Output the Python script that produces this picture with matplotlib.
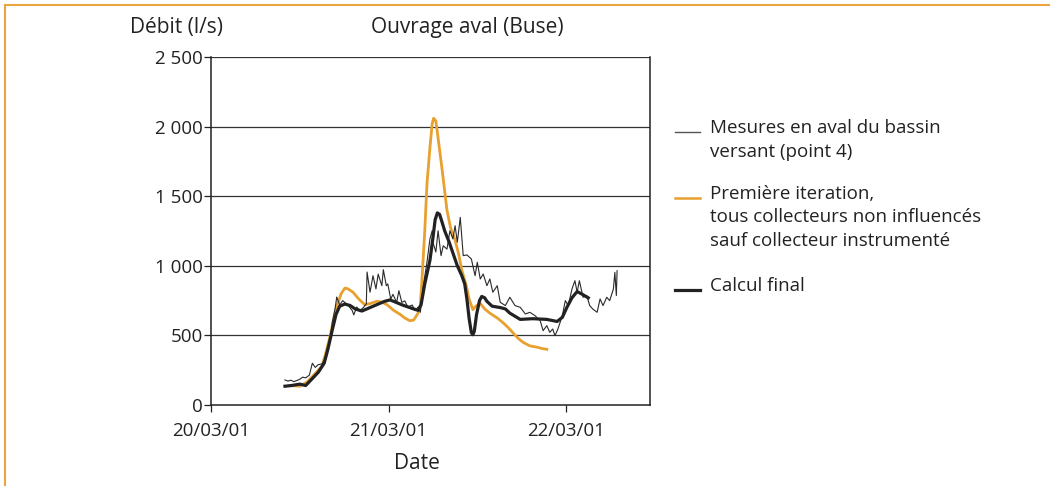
import matplotlib
matplotlib.use("Agg")
import matplotlib.pyplot as plt
from matplotlib.lines import Line2D

plt.rcParams['font.family'] = ['Open Sans', 'DejaVu Sans']

# heures depuis le 20/03/01 00:00
mes_h = [10.0, 10.4, 10.8, 11.2, 11.6, 12.0, 12.4, 12.8, 13.3, 13.7, 14.1, 14.5, 15.0, 15.4,
         15.7, 16.1, 16.4, 16.8, 17.0, 17.4, 17.8, 18.5, 19.1, 19.3, 19.7, 20.1, 20.6, 21.0,
         21.1, 21.5, 21.9, 22.3, 22.6, 23.1, 23.3, 23.7, 23.9, 24.3, 24.6, 25.1, 25.4, 25.8,
         26.2, 26.6, 27.2, 27.6, 28.0, 28.3, 28.7, 29.2, 29.6, 29.9, 30.0, 30.4, 30.7, 31.1,
         31.4, 31.9, 32.3, 32.7, 33.0, 33.3, 33.7, 34.1, 34.6, 35.2, 35.7, 36.0, 36.4, 36.8,
         37.3, 37.7, 38.1, 38.7, 39.1, 39.8, 40.4, 41.1, 41.8, 42.5, 43.1, 43.8, 44.5, 44.9,
         45.4, 45.8, 46.2, 46.5, 46.9, 47.5, 47.9, 48.3, 48.8, 49.2, 49.5, 49.8, 50.3, 50.8,
         51.2, 51.6, 52.2, 52.6, 53.0, 53.5, 53.9, 54.4, 54.6, 54.8, 54.9]
mes_q = [180, 172, 178, 168, 176, 185, 200, 195, 215, 300, 270, 290, 295, 330,
         400, 470, 596, 700, 776, 718, 750, 718, 678, 647, 704, 678, 700, 727,
         955, 810, 929, 834, 940, 857, 972, 857, 870, 761, 795, 737, 821, 737,
         748, 704, 718, 678, 704, 666, 857, 1027, 1193, 1252, 1170, 1099, 1252, 1073,
         1144, 1120, 1252, 1193, 1288, 1170, 1348, 1073, 1078, 1049, 929, 1025, 905, 941,
         857, 905, 810, 857, 738, 714, 774, 714, 702, 654, 666, 642, 606, 534,
         570, 522, 546, 498, 546, 642, 750, 714, 833, 893, 810, 893, 774, 786,
         714, 690, 666, 762, 714, 774, 750, 833, 953, 786, 965]

iter_h = [10.7, 12.0, 13.0, 13.8, 14.5, 15.0, 15.5, 16.1, 16.6, 17.0, 17.6, 18.1, 18.5, 19.2,
          20.0, 20.8, 21.6, 22.4, 23.1, 23.8, 24.7, 25.6, 26.2, 26.9, 27.4, 28.0, 28.3, 28.5,
          28.9, 29.2, 29.6, 29.9, 30.1, 30.4, 30.6, 31.2, 31.9, 32.4, 33.0, 33.5, 33.9, 34.5,
          34.9, 35.4, 35.8, 36.4, 37.0, 37.7, 38.7, 39.5, 40.2, 40.8, 41.5, 42.2, 43.1, 44.1,
          44.8, 45.4]
iter_q = [140, 135, 165, 210, 250, 280, 370, 495, 620, 710, 800, 840, 835, 810,
          760, 720, 730, 745, 740, 720, 680, 650, 625, 605, 610, 660, 720, 880,
          1250, 1590, 1850, 2020, 2060, 2040, 1960, 1710, 1400, 1270, 1185, 1080, 970, 860,
          760, 685, 710, 730, 690, 660, 625, 590, 555, 520, 480, 450, 425, 415,
          405, 400]

calc_h = [10.0, 10.9, 12.0, 12.8, 13.7, 14.5, 15.3, 15.8, 16.4, 16.9, 17.4, 18.1, 18.8, 19.5,
          20.4, 21.5, 22.6, 23.5, 24.2, 24.9, 25.8, 26.6, 27.4, 28.0, 28.4, 28.9, 29.6, 30.0,
          30.3, 30.6, 30.9, 31.2, 31.6, 32.2, 33.3, 33.9, 34.3, 34.6, 34.9, 35.2, 35.4, 35.6,
          35.9, 36.3, 36.6, 37.0, 37.3, 38.0, 39.1, 39.8, 40.4, 41.8, 43.5, 45.4, 46.8, 47.5,
          48.1, 48.8, 49.5, 50.2, 51.0]
calc_q = [135, 140, 150, 140, 190, 235, 300, 400, 540, 650, 710, 725, 715, 690,
          675, 700, 725, 745, 755, 740, 720, 705, 690, 680, 720, 870, 1040, 1200,
          1330, 1380, 1370, 1320, 1250, 1170, 1000, 930, 870, 760, 620, 520, 505, 530,
          650, 750, 780, 770, 745, 710, 700, 690, 660, 615, 620, 615, 600, 630,
          700, 770, 815, 795, 770]

dates = [0, 24, 48]
date_labels = ['20/03/01', '21/03/01', '22/03/01']
yticks = [0, 500, 1000, 1500, 2000, 2500]
ylabels = ['0', '500', '1 000', '1 500', '2 000', '2 500']

orange = '#E8A02F'
ink = '#222222'

fig = plt.figure(figsize=(10.5, 4.86), dpi=100)
ax = fig.add_axes([211 / 1050, 1 - 405 / 486, (650 - 211) / 1050, (405 - 57) / 486])

for y in yticks[1:]:
    ax.axhline(y, color='#333333', lw=0.9, zorder=1)

ax.plot(mes_h, mes_q, color='#2a2a2a', lw=0.8, zorder=3)
ax.plot(iter_h, iter_q, color=orange, lw=2.0, zorder=2)
ax.plot(calc_h, calc_q, color=ink, lw=2.3, zorder=4)

ax.set_xlim(0, 59.35)
ax.set_ylim(0, 2500)
ax.set_xticks(dates)
ax.set_xticklabels(date_labels)
ax.set_yticks(yticks)
ax.set_yticklabels(ylabels)
ax.tick_params(axis='both', colors=ink, labelsize=13.5, length=5, width=0.9, direction='out')
ax.tick_params(axis='x', pad=7)
ax.tick_params(axis='y', pad=1)
for s in ['left', 'bottom', 'right']:
    ax.spines[s].set_color('#222222')
    ax.spines[s].set_linewidth(1.1)
ax.spines['top'].set_visible(False)

fig.text(176 / 1050, 1 - 27 / 486, 'Débit (l/s)', ha='center', va='center', fontsize=15, color=ink)
fig.text(467 / 1050, 1 - 27 / 486, 'Ouvrage aval (Buse)', ha='center', va='center', fontsize=15, color=ink)
fig.text(417 / 1050, 1 - 463 / 486, 'Date', ha='center', va='center', fontsize=15, color=ink)

# legende
leg = [
    ('#555555', 1.0, 132, ['Mesures en aval du bassin', 'versant (point 4)']),
    (orange, 1.8, 198, ['Première iteration,', 'tous collecteurs non influencés',
                        'sauf collecteur instrumenté']),
    (ink, 2.3, 290, ['Calcul final']),
]
for col, lw, ypx, lines in leg:
    fig.add_artist(Line2D([675 / 1050, 700 / 1050], [1 - ypx / 486] * 2, color=col, lw=lw))
    for i, t in enumerate(lines):
        fig.text(710 / 1050, 1 - (ypx - 4 + i * 23.5) / 486, t, ha='left', va='center',
                 fontsize=13.5, color=ink)

# cadre orange
fig.add_artist(Line2D([5 / 1050, 1], [1 - 5 / 486] * 2, color='#E9A640', lw=1.5))
fig.add_artist(Line2D([5 / 1050] * 2, [0, 1 - 5 / 486], color='#E9A640', lw=1.5))

fig.savefig('out.png', dpi=100)
